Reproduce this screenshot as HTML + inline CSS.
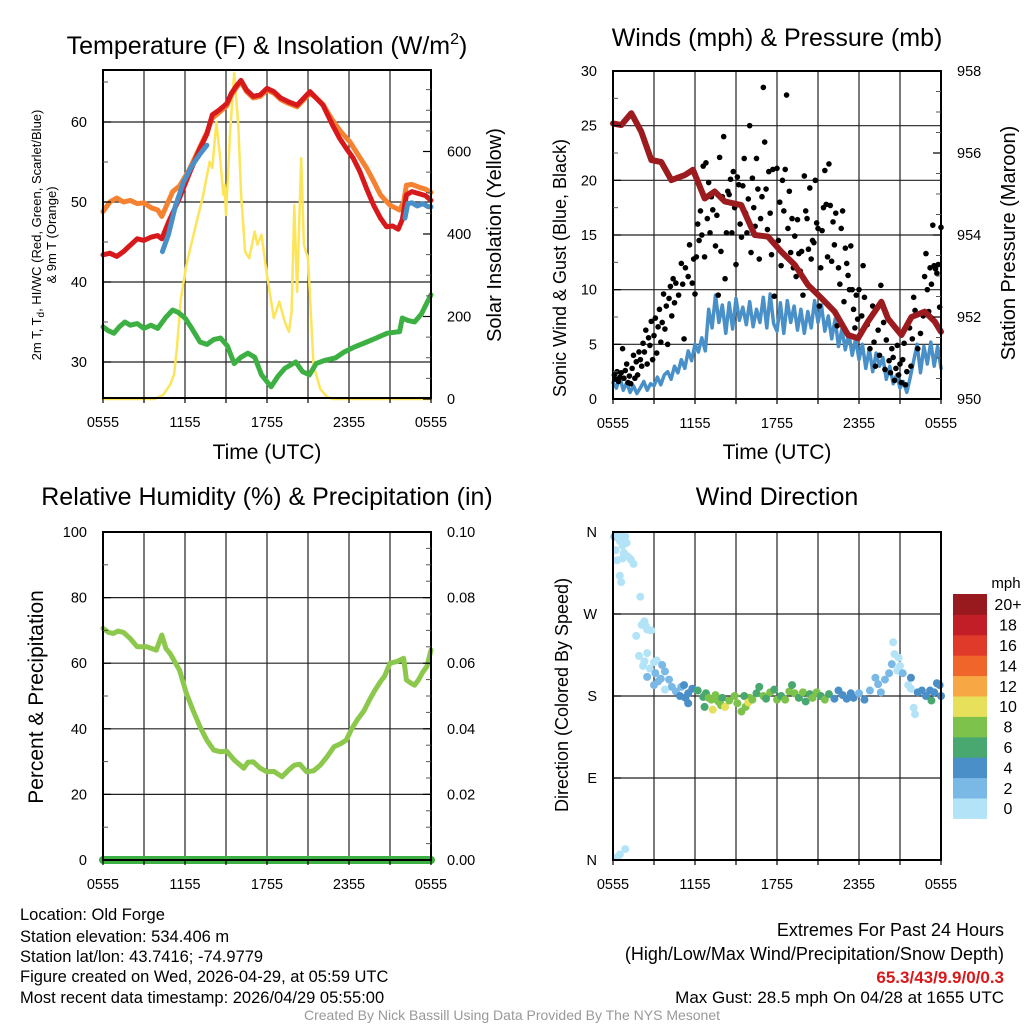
<!DOCTYPE html>
<html><head><meta charset="utf-8"><style>
html,body{margin:0;padding:0;background:#fff}
svg{display:block;font-family:"Liberation Sans",sans-serif}
</style></head><body>
<svg id="c" width="1024" height="1024" viewBox="0 0 1024 1024" xmlns="http://www.w3.org/2000/svg">
<rect width="1024" height="1024" fill="#fff"/>
<text x="267" y="54" font-size="25" text-anchor="middle">Temperature (F) &amp; Insolation (W/m<tspan dy="-10" font-size="16">2</tspan><tspan dy="10">)</tspan></text>
<text x="777" y="46" font-size="25" text-anchor="middle">Winds (mph) &amp; Pressure (mb)</text>
<text x="267" y="505" font-size="25" text-anchor="middle">Relative Humidity (%) &amp; Precipitation (in)</text>
<text x="777" y="505" font-size="25" text-anchor="middle">Wind Direction</text>
<text x="267" y="459" font-size="21" text-anchor="middle">Time (UTC)</text>
<text x="777" y="459" font-size="21" text-anchor="middle">Time (UTC)</text>
<text transform="translate(41,235) rotate(-90)" font-size="13" text-anchor="middle">2m T, T<tspan dy="3" font-size="10">d</tspan><tspan dy="-3">, HI/WC (Red, Green, Scarlet/Blue)</tspan></text>
<text transform="translate(56,235) rotate(-90)" font-size="13" text-anchor="middle">&amp; 9m T (Orange)</text>
<text transform="translate(501,235) rotate(-90)" font-size="20" text-anchor="middle">Solar Insolation (Yellow)</text>
<text transform="translate(566,268) rotate(-90)" font-size="18" text-anchor="middle">Sonic Wind &amp; Gust (Blue, Black)</text>
<text transform="translate(1015,243) rotate(-90)" font-size="20" text-anchor="middle">Station Pressure (Maroon)</text>
<text transform="translate(43,697) rotate(-90)" font-size="21" text-anchor="middle">Percent &amp; Precipitation</text>
<text transform="translate(568,695) rotate(-90)" font-size="18" text-anchor="middle">Direction (Colored By Speed)</text>
<g font-size="16.5">
<text x="20" y="920">Location: Old Forge</text>
<text x="20" y="942">Station elevation: 534.406 m</text>
<text x="20" y="962">Station lat/lon: 43.7416; -74.9779</text>
<text x="20" y="982">Figure created on Wed, 2026-04-29, at 05:59 UTC</text>
<text x="20" y="1003">Most recent data timestamp: 2026/04/29 05:55:00</text>
</g>
<g text-anchor="end">
<text x="1004" y="936" font-size="18">Extremes For Past 24 Hours</text>
<text x="1004" y="960" font-size="18">(High/Low/Max Wind/Precipitation/Snow Depth)</text>
<text x="1004" y="983" font-size="17" fill="#d7191c" font-weight="bold">65.3/43/9.9/0/0.3</text>
<text x="1004" y="1003" font-size="17">Max Gust: 28.5 mph On 04/28 at 1655 UTC</text>
</g>
<text x="512" y="1020" font-size="14" fill="#999" text-anchor="middle">Created By Nick Bassill Using Data Provided By The NYS Mesonet</text>
</svg>
<script>
const xTickLabels = ["0555","1155","1755","2355","0555"];
const tempTicks = [30,40,50,60];
const solarTicks = [0,200,400,600];
const windTicks = [0,5,10,15,20,25,30];
const pressTicks = [950,952,954,956,958];
const rhTicks = [0,20,40,60,80,100];
const precipTicks = ["0.00","0.02","0.04","0.06","0.08","0.10"];
const dirTicks = ["N","E","S","W","N"];
const speedBins = ["0","2","4","6","8","10","12","14","16","18","20+"];
const speedColors = ["#b3e3f7","#7ab8e6","#4a8fc7","#48a86f","#7dc24a","#e6e05a","#f7a845","#f0652a","#e03a2b","#c11e27","#981a1e"];

const tempRed = [[0,43.4],[0.5,43.6],[1,43.2],[1.5,43.8],[2,44.6],[2.5,45.4],[3,45.2],[3.5,45.6],[4,45.8],[4.3,45.4],[4.8,47.5],[5.6,50.5],[6.3,53.5],[7.1,56.7],[7.6,58.5],[8.0,60.9],[8.5,61.5],[9.05,62.3],[9.4,63.6],[9.8,64.6],[10.1,65.2],[10.5,64.0],[11,63.2],[11.5,63.4],[12,64.2],[12.5,63.8],[13,63.0],[13.6,62.5],[14.2,62.1],[14.7,63.0],[15.15,63.8],[15.6,63.0],[16.1,62.1],[16.8,59.6],[17.3,58.0],[17.8,56.7],[18.3,55.5],[18.8,53.8],[19.3,51.6],[19.8,49.6],[20.3,48.0],[20.75,46.9],[21.2,47.0],[21.6,46.6],[21.9,47.8],[22.2,50.9],[22.6,51.3],[23.2,51.0],[23.6,50.8],[24,50.2]];
const tempOrange = [[0,48.8],[0.5,50.0],[1,50.5],[1.5,50.0],[2,50.2],[2.5,49.8],[3,49.9],[3.5,49.3],[4,49.0],[4.3,48.2],[5.1,51.3],[5.6,52.0],[6.3,54.0],[7.1,56.9],[7.6,58.7],[8.0,60.5],[8.5,61.2],[9.05,62.0],[9.4,63.4],[9.8,64.4],[10.1,65.0],[10.5,63.8],[11,63.0],[11.5,63.2],[12,64.0],[12.5,63.6],[13,62.8],[13.6,62.3],[14.2,61.9],[14.7,62.8],[15.15,63.6],[15.6,63.0],[16.1,62.2],[16.8,60.2],[17.4,58.8],[18.07,57.5],[18.7,55.8],[19.3,54.2],[19.8,52.6],[20.3,50.9],[21,49.6],[21.7,49.0],[22.0,50.0],[22.2,52.1],[22.6,52.2],[23.2,51.8],[23.6,51.6],[24,51.2]];
const tempBlue1 = [[4.35,43.8],[4.8,46.0],[5.3,49.5],[5.9,52.5],[6.5,54.5],[7.1,56.0],[7.6,57.1]];
const tempBlue2 = [[22.1,48.0],[22.3,49.8],[22.6,49.9],[23.0,49.5],[23.4,49.8],[23.8,49.4],[24,49.4]];
const dewGreen = [[0,34.4],[0.4,33.9],[0.8,33.6],[1.2,34.4],[1.6,35.0],[2,34.6],[2.5,34.8],[3,34.2],[3.5,34.6],[4,34.2],[4.6,35.6],[5.1,36.5],[5.5,36.2],[6,35.5],[6.5,34.2],[7.1,32.5],[7.6,32.2],[8.1,32.8],[8.6,33.0],[9.1,32.0],[9.6,29.8],[10.1,30.6],[10.6,31.1],[11.1,30.6],[11.6,28.4],[12.3,26.9],[12.8,28.2],[13.3,29.2],[14.1,30.0],[14.6,28.8],[15.1,28.4],[15.6,29.8],[16.2,30.2],[17,30.5],[17.6,31.2],[18.3,31.8],[19.3,32.5],[20,33.0],[20.8,33.6],[21.7,33.8],[21.9,35.5],[22.3,35.2],[22.8,35.0],[23.3,36.0],[23.7,37.4],[24,38.4]];
const solar = [[0,0],[3.8,0],[4.4,10],[4.9,34],[5.2,60],[5.4,120],[5.7,244],[6.1,325],[6.8,422],[7.3,490],[7.8,575],[8.0,560],[8.3,672],[8.6,575],[8.8,495],[8.9,520],[9.0,446],[9.3,648],[9.6,790],[9.9,664],[10.1,500],[10.4,357],[10.7,341],[11.1,406],[11.3,374],[11.6,398],[12.0,300],[12.5,196],[12.9,236],[13.3,187],[13.6,163],[13.8,212],[14.0,470],[14.2,260],[14.5,584],[14.7,374],[15.0,341],[15.4,82],[15.9,24],[16.4,5],[16.8,0],[24,0]];

const windBlue = [1.5,1.0,2.0,0.8,1.5,0.6,1.2,0.5, 1.0,1.6,0.8,1.4,1.2,2.0,1.3,2.2, 2.5,1.8,3.0,2.4,3.6,2.8,4.4,3.5, 5.0,4.3,5.6,4.4,8.2,6.5,9.5,7.0, 8.6,6.0,8.8,6.4,9.2,7.2,8.4,6.8, 8.9,6.6,8.2,7.0,9.3,6.5,9.6,6.9, 6.2,8.8,6.0,9.0,7.0,8.5,6.3,8.2, 6.0,8.0,6.5,9.0,7.0,8.6,6.2,7.6, 5.5,7.3,4.8,6.4,4.5,6.0,4.0,5.5, 3.6,5.0,2.8,4.6,2.5,4.2,3.0,3.8, 1.8,3.0,1.4,2.2,1.0,1.6,0.6,2.0, 3.5,5.0,2.4,4.8,3.2,5.2,3.0,4.8, 2.8];
const pressure = [[0,956.72],[0.61,956.68],[1.34,956.97],[2.07,956.52],[2.8,955.83],[3.53,955.78],[4.27,955.34],[5.25,955.46],[5.85,955.59],[6.71,954.89],[7.44,955.06],[8.17,954.82],[9.39,954.73],[10.37,954.0],[11.34,953.96],[12.32,953.59],[13.3,953.27],[14.27,952.78],[15.25,952.46],[16.22,952.13],[17.2,951.56],[17.93,951.48],[18.66,951.89],[19.64,952.37],[20.12,951.96],[21.1,951.56],[21.84,952.0],[22.81,952.13],[23.54,951.89],[24,951.64]];
const gusts = [[0.1,2.2],[0.2,1.8],[0.3,2.5],[0.4,1.6],[0.5,2.0],[0.6,2.4],[0.7,4.6],[0.8,1.9],[0.9,2.6],[1.0,3.2],[1.1,1.5],[1.2,2.1],[1.3,1.4],[1.4,2.8],[1.5,4.0],[1.6,1.9],[1.7,3.4],[1.8,2.2],[1.9,4.3],[2.0,3.6],[2.1,3.0],[2.2,5.1],[2.3,4.3],[2.4,6.3],[2.5,3.2],[2.6,5.6],[2.7,4.9],[2.8,7.1],[2.9,3.6],[3.0,5.8],[3.1,7.4],[3.2,4.2],[3.3,6.6],[3.4,8.2],[3.5,5.2],[3.6,7.0],[3.7,9.6],[3.8,6.4],[3.9,8.5],[4.0,5.0],[4.1,9.2],[4.2,10.3],[4.3,7.6],[4.4,11.0],[4.5,8.8],[4.6,10.6],[4.8,9.5],[5.0,12.4],[5.1,10.5],[5.2,5.5],[5.3,12.0],[5.5,11.2],[5.6,14.1],[5.8,10.6],[5.9,12.8],[6.0,9.6],[6.1,13.0],[6.2,16.0],[6.3,14.5],[6.4,17.2],[6.5,15.0],[6.6,21.3],[6.7,13.0],[6.8,21.6],[6.9,16.5],[7.0,19.8],[7.1,15.2],[7.2,18.5],[7.3,17.3],[7.5,14.0],[7.6,16.8],[7.7,9.5],[7.8,22.1],[7.9,13.5],[8.0,18.5],[8.1,24.0],[8.2,11.0],[8.3,15.2],[8.4,19.0],[8.5,18.7],[8.6,20.1],[8.7,15.2],[8.8,20.8],[8.9,17.5],[9.0,12.3],[9.1,20.3],[9.2,19.6],[9.3,16.0],[9.4,14.8],[9.5,19.5],[9.6,22.0],[9.7,17.0],[9.8,15.2],[9.9,18.3],[10.0,25.0],[10.1,13.4],[10.2,20.2],[10.3,17.5],[10.4,15.8],[10.5,22.0],[10.6,19.2],[10.7,12.8],[10.8,16.5],[10.9,18.5],[11.0,28.5],[11.1,23.5],[11.2,19.2],[11.3,15.5],[11.4,20.8],[11.5,17.0],[11.6,13.2],[11.7,21.0],[11.8,9.4],[12.0,21.1],[12.1,14.5],[12.2,18.0],[12.3,12.2],[12.4,20.0],[12.5,17.2],[12.6,21.0],[12.7,27.8],[12.8,15.6],[12.9,19.0],[13.0,13.4],[13.1,16.5],[13.2,12.0],[13.3,14.9],[13.4,11.2],[13.5,16.4],[13.6,13.3],[13.7,11.7],[13.8,13.5],[13.9,9.5],[14.0,20.4],[14.1,17.2],[14.2,16.5],[14.3,13.7],[14.4,19.3],[14.5,12.8],[14.6,14.5],[14.7,14.3],[14.8,20.0],[14.9,16.1],[15.0,15.6],[15.1,8.5],[15.2,12.0],[15.3,15.4],[15.4,17.5],[15.5,20.9],[15.6,17.8],[15.7,13.0],[15.8,21.5],[15.9,17.7],[16.0,12.6],[16.1,16.2],[16.2,14.1],[16.3,17.0],[16.4,6.7],[16.5,12.0],[16.6,10.5],[16.7,15.6],[16.8,17.2],[16.9,8.9],[17.0,13.8],[17.1,12.4],[17.2,11.3],[17.3,10.0],[17.4,14.0],[17.5,10.0],[17.6,8.2],[17.7,6.5],[17.8,9.5],[17.9,7.3],[18.0,10.0],[18.2,7.6],[18.3,12.2],[18.4,9.3],[18.6,6.8],[18.8,4.6],[19.0,8.5],[19.1,5.2],[19.2,3.0],[19.4,6.3],[19.5,4.0],[19.6,10.4],[19.8,7.0],[19.9,2.7],[20.0,5.4],[20.2,3.5],[20.3,2.4],[20.4,4.6],[20.5,3.8],[20.6,1.7],[20.7,2.8],[20.8,4.9],[20.9,2.2],[21.0,3.2],[21.1,1.5],[21.2,3.6],[21.3,5.1],[21.4,1.3],[21.5,2.5],[21.7,6.5],[21.8,3.0],[21.9,5.5],[22.0,9.3],[22.1,8.1],[22.3,4.6],[22.5,6.0],[22.7,7.6],[22.8,11.2],[22.9,13.3],[23.0,10.0],[23.1,8.0],[23.2,12.0],[23.3,10.5],[23.4,15.9],[23.5,12.2],[23.6,11.9],[23.7,11.5],[23.8,12.3],[23.9,8.4],[24.0,15.7]];
const rh = [[0,70.6],[0.4,69.4],[0.76,69.1],[1.1,69.8],[1.5,69.4],[2.0,67.5],[2.5,65.0],[3.2,65.0],[3.9,64.0],[4.3,68.6],[4.6,64.5],[4.9,63.0],[5.6,57.9],[6.1,50.8],[6.6,45.5],[7.1,40.6],[7.6,36.5],[8.1,33.5],[8.6,33.0],[9.05,33.2],[9.6,30.5],[10.3,28.0],[10.6,29.8],[11.0,29.9],[11.5,28.0],[12.0,26.9],[12.5,27.0],[13.1,25.4],[13.6,27.5],[14.0,28.9],[14.4,29.2],[14.9,26.9],[15.4,27.2],[15.9,28.9],[16.4,31.5],[16.9,34.5],[17.4,35.5],[17.8,36.6],[18.2,40.0],[18.6,42.7],[19.1,45.5],[19.5,48.8],[19.9,51.8],[20.3,54.4],[20.6,56.0],[21.0,60.0],[21.5,60.5],[22.0,61.5],[22.2,54.9],[22.5,54.0],[22.8,53.3],[23.1,55.0],[23.4,57.3],[23.7,59.0],[24,64.0]];
const precip = [[0,0],[24,0]];
const windDir = [[0.1,355,3],[0.2,340,1],[0.3,357,0],[0.4,353,0],[0.5,350,0],[0.6,357,0],[0.7,345,0],[0.8,337,0],[0.9,355,0],[1.0,348,1],[1.1,333,0],[0.3,329,1],[0.5,312,0],[0.6,305,0],[0.7,331,0],[1.3,330,0],[1.5,325,0],[2.0,289,0],[2.1,258,0],[2.3,262,0],[2.4,257,0],[2.5,253,0],[2.8,252,0],[1.7,246,0],[1.9,224,0],[2.3,218,0],[2.5,227,0],[2.2,213,0],[2.7,210,0],[3.0,217,0],[3.2,219,1],[2.5,201,2],[3.1,205,2],[3.3,196,2],[3.6,214,2],[3.8,207,2],[3.5,199,3],[4.1,198,2],[4.3,190,2],[3.8,187,1],[3.0,192,2],[4.6,185,3],[5.0,190,3],[5.2,192,4],[4.9,180,4],[5.3,178,4],[5.5,183,4],[5.8,188,4],[5.5,172,4],[6.2,186,6],[6.6,179,6],[6.8,183,7],[6.7,168,6],[7.0,178,8],[7.2,176,8],[7.5,181,8],[7.7,174,8],[8.0,178,6],[7.3,165,10],[7.9,170,8],[8.2,168,10],[8.5,175,8],[8.9,180,8],[9.1,172,8],[9.4,163,8],[9.7,168,8],[10.0,178,8],[9.6,180,6],[9.9,173,10],[10.2,176,8],[10.5,183,6],[10.7,190,6],[11.0,180,8],[11.2,177,6],[11.5,184,8],[11.8,187,6],[12.0,176,8],[12.3,180,6],[12.6,176,8],[12.9,185,8],[13.1,192,6],[13.3,183,8],[13.6,178,6],[13.9,184,8],[14.1,174,6],[14.4,182,6],[14.6,178,8],[14.9,184,8],[15.2,180,6],[15.5,176,8],[15.8,182,6],[16.2,177,4],[16.5,186,4],[16.8,181,4],[17.1,177,4],[17.4,183,4],[17.6,178,4],[18.0,183,2],[18.4,176,4],[18.8,186,2],[19.2,200,2],[19.4,193,2],[19.6,184,2],[19.9,198,2],[20.2,205,2],[20.4,215,2],[20.5,239,0],[20.6,226,0],[20.8,208,0],[20.9,222,0],[21.0,213,0],[21.2,205,2],[21.6,192,0],[21.8,188,0],[22.0,167,0],[22.1,160,0],[21.8,200,4],[22.3,184,4],[22.6,186,4],[22.9,180,4],[23.2,186,4],[23.5,184,4],[23.7,194,4],[23.9,192,4],[24.0,180,4],[23.3,175,6],[0.3,3,0],[0.5,6,0],[0.9,12,0]];

const NS="http://www.w3.org/2000/svg";
const svg=document.getElementById('c');
function el(tag,attrs,parent){const e=document.createElementNS(NS,tag);for(const k in attrs)e.setAttribute(k,attrs[k]);(parent||svg).appendChild(e);return e;}
function scale(d0,d1,r0,r1){return v=>r0+(v-d0)/(d1-d0)*(r1-r0);}

function makePanel(name,x0,y0){
  const W=328,H=328;
  const g=el('g',{});
  
  
  const sx=scale(0,24,x0,x0+W);
  return {g,x0,y0,W,H,sx};
}
function grid(p,hLines){
  for(let i=1;i<8;i++){
    const x=p.sx(i*3);
    const l=el('line',{x1:x,x2:x,y1:p.y0,y2:p.y0+p.H,stroke:'#222','stroke-width':1.2},p.g);
    
    
  }
  hLines.forEach(y=>{
    const l=el('line',{x1:p.x0,x2:p.x0+p.W,y1:y,y2:y,stroke:'#222','stroke-width':1.2},p.g);
    
    
  });
}
function frame(p){
  const r=el('rect',{x:p.x0,y:p.y0,width:p.W,height:p.H,fill:'none',stroke:'#000','stroke-width':2},p.g);
  
  
  for(let i=0;i<=8;i++){
    const x=p.sx(i*3);
    el('line',{x1:x,x2:x,y1:p.y0+p.H,y2:p.y0+p.H+5,stroke:'#000','stroke-width':1.2},p.g);
  }
  xTickLabels.forEach((t,i)=>{
    const tx=el('text',{x:p.sx(i*6),y:p.y0+p.H+29,'font-size':14.5,'text-anchor':'middle'},p.g);
    tx.textContent=t;
    
    
  });
}
function ticks(p,side,vals,sy,minorStep,lo,hi){
  const x=side==='l'?p.x0:p.x0+p.W, d=side==='l'?1:-1;
  for(let v=lo;v<=hi+1e-9;v+=minorStep){const y=sy(v);if(y<p.y0-0.5||y>p.y0+p.H+0.5)continue;el('line',{x1:x,x2:x+d*5,y1:y,y2:y,stroke:'#555','stroke-width':1},p.g);}
  vals.forEach(v=>{const y=sy(v);el('line',{x1:x,x2:x+d*8,y1:y,y2:y,stroke:'#000','stroke-width':1.2},p.g);});
}
function yLabels(p,side,vals,texts,sy){
  vals.forEach((v,i)=>{
    const t=el('text',{x:side==='l'?p.x0-16:p.x0+p.W+16,y:sy(v)+5,'font-size':14.5,'text-anchor':side==='l'?'end':'start'},p.g);
    t.textContent=texts?texts[i]:String(v);
    
    
  });
}
function line(p,pts,sy,color,w,name){
  const d=pts.map((q,i)=>(i?'L':'M')+p.sx(q[0]).toFixed(1)+','+sy(q[1]).toFixed(1)).join('');
  const pa=el('path',{d,fill:'none',stroke:color,'stroke-width':w,'stroke-linejoin':'round','stroke-linecap':'round'},p.g);
  
  
}

const p1=makePanel('temperature-panel',103,70);
const yT=scale(30,40,362,282), yS=scale(0,600,399,151.5);
grid(p1,tempTicks.map(yT));
line(p1,solar,yS,'#fde55a',2.5,'solar-line');
line(p1,dewGreen,yT,'#3db043',5,'dewpoint-line');
line(p1,tempOrange,yT,'#f58231',5,'temp-9m-line');
line(p1,tempRed,yT,'#d7191c',5,'temp-2m-line');
line(p1,tempBlue1,yT,'#4a90c8',5,'windchill-line');
line(p1,tempBlue2,yT,'#4a90c8',5,'windchill-line-late');
frame(p1);
ticks(p1,'l',tempTicks,yT,5,25,65);
ticks(p1,'r',solarTicks,yS,50,0,750);
yLabels(p1,'l',tempTicks,null,yT);
yLabels(p1,'r',solarTicks,null,yS);

const p2=makePanel('wind-panel',613,71);
const yW=scale(0,30,399,71), yP=scale(950,958,399,71);
grid(p2,[5,10,15,20,25].map(yW));
const bluePts=windBlue.map((v,i)=>[i*0.25,v]);
line(p2,bluePts,yW,'#4a90c8',3.5,'sonic-wind-line');
gusts.forEach(q=>{
  const c=el('circle',{cx:p2.sx(q[0]),cy:yW(q[1]),r:2.8,fill:'#000'},p2.g);
  
  
});
line(p2,pressure,yP,'#9b1b1e',6,'pressure-line');
frame(p2);
ticks(p2,'l',windTicks,yW,2.5,0,30);
ticks(p2,'r',pressTicks,yP,0.5,950,958);
yLabels(p2,'l',windTicks,null,yW);
yLabels(p2,'r',pressTicks,null,yP);

const p3=makePanel('humidity-panel',103,532);
const yR=scale(0,100,860,532), yPr=scale(0,0.1,860,532);
grid(p3,[20,40,60,80].map(yR));
line(p3,rh,yR,'#8cc84b',5,'rh-line');
line(p3,precip,yPr,'#3db043',8,'precip-line');
frame(p3);
ticks(p3,'l',rhTicks,yR,10,0,100);
ticks(p3,'r',rhTicks,yR,5,0,100);
yLabels(p3,'l',rhTicks,null,yR);
yLabels(p3,'r',rhTicks,precipTicks,yR);

const p4=makePanel('direction-panel',613,532);
const yD=scale(0,360,860,532);
grid(p4,[90,180,270].map(yD));
windDir.forEach(q=>{
  const idx=Math.min(10,Math.floor(q[2]/2));
  const c=el('circle',{cx:p4.sx(q[0]),cy:yD(q[1]),r:4,fill:speedColors[idx]},p4.g);
  
  
});
frame(p4);
ticks(p4,'l',[0,90,180,270,360],yD,90,0,360);
yLabels(p4,'l',[0,90,180,270,360],dirTicks,yD);

const cb=el('g',{});


const cbTop=594,cbH=20.4;
speedBins.forEach((b,i)=>{
  const j=speedBins.length-1-i;
  const y=cbTop+j*cbH;
  const r=el('rect',{x:953,y:y,width:34,height:cbH+0.5,fill:speedColors[i]},cb);
  
  
  const t=el('text',{x:1008,y:y+cbH/2+6,'font-size':16,'text-anchor':'middle'},cb);
  t.textContent=b;
  
  
});
const mt=el('text',{x:1006,y:588,'font-size':15,'text-anchor':'middle'},cb);
mt.textContent='mph';


</script>
</body></html>
